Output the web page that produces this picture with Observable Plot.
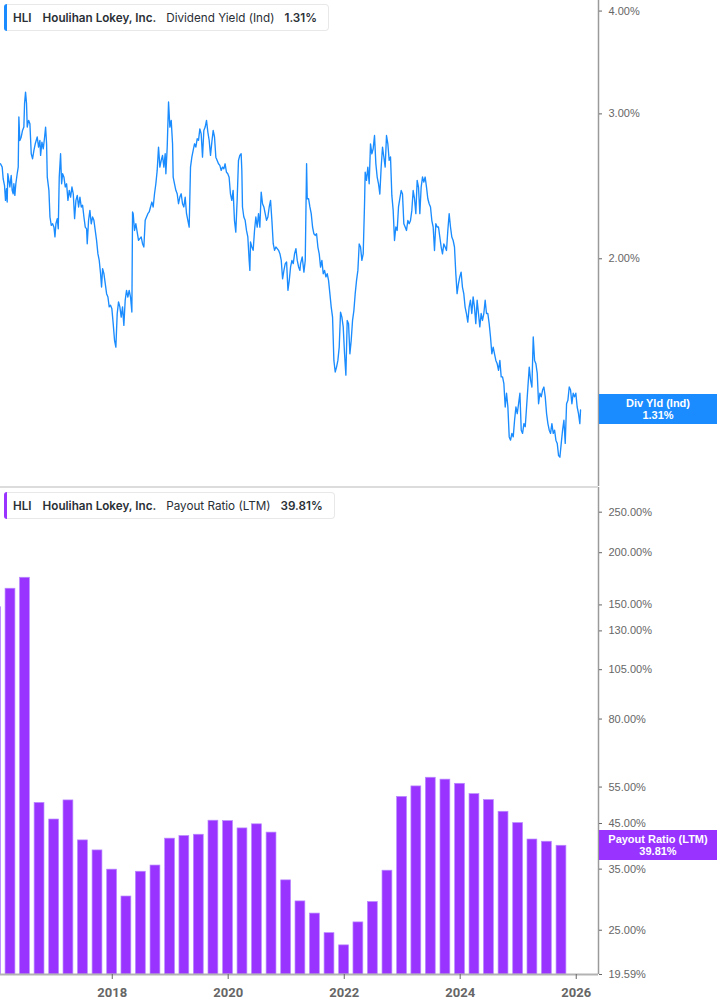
<!DOCTYPE html>
<html>
<head>
<meta charset="utf-8">
<script src="https://cdn.jsdelivr.net/npm/d3@7"></script>
<script src="https://cdn.jsdelivr.net/npm/@observablehq/plot@0.6"></script>
<style>
  html, body { margin: 0; padding: 0; background: #fff; }
  #wrap { position: relative; width: 717px; height: 1005px; overflow: hidden; font-family: Inter, "Noto Sans", sans-serif; }
  #wrap svg { display: block; }
  .panel { position: absolute; left: 0; }
  .legend { position: absolute; left: 4px; height: 27px; box-sizing: border-box; border: 1px solid #e8e8e8; border-left: none;
            border-radius: 4px; background: #fff; font-size: 11.7px; color: #2a2f36; display: flex; align-items: center; white-space: nowrap; padding-right: 11px; }
  .legend .bar { width: 3px; align-self: stretch; margin: -1px 6px -1px 0; border-radius: 3px 0 0 3px; }
  .legend .it { margin-right: 10px; }
  .legend .first { margin-right: 11px; }
  .legend .b { font-weight: 600; }
  .legend .it:last-child { margin-right: 0; }
  .vbox { position: absolute; left: 599px; width: 118px; height: 30px; color: #fff; font-family: "Liberation Sans", Arial, sans-serif;
          font-weight: bold; font-size: 11px; line-height: 12px; text-align: center; display: flex; flex-direction: column; justify-content: center; }
  .sep { position: absolute; left: 0; top: 486px; width: 598px; height: 2px; background: #dcdcdc; }
</style>
</head>
<body>
<div id="wrap"></div>
<script>
// ---------- Data ----------
const ticker = "HLI";
const company = "Houlihan Lokey, Inc.";
const divLabel = "Dividend Yield (Ind)";
const divShort = "Div Yld (Ind)";
const divLast = 1.31;
const payLabel = "Payout Ratio (LTM)";
const payLast = 39.81;

// Dividend yield (%), dates as decimal years
const divDates = [
2016.074,2016.103,2016.120,2016.143,2016.160,2016.177,2016.189,2016.200,2016.218,2016.235,
2016.258,2016.275,2016.292,2016.304,2016.321,2016.338,2016.361,2016.379,2016.390,2016.407,
2016.430,2016.453,2016.476,2016.488,2016.505,2016.522,2016.534,2016.557,2016.580,2016.603,
2016.626,2016.649,2016.672,2016.706,2016.729,2016.752,2016.764,2016.787,2016.810,2016.833,
2016.850,2016.867,2016.879,2016.907,2016.925,2016.948,2016.971,2016.994,2017.011,2017.028,
2017.051,2017.068,2017.085,2017.108,2017.126,2017.143,2017.166,2017.189,2017.212,2017.235,
2017.258,2017.281,2017.304,2017.327,2017.350,2017.373,2017.396,2017.419,2017.442,2017.465,
2017.488,2017.511,2017.534,2017.557,2017.568,2017.591,2017.614,2017.637,2017.660,2017.683,
2017.706,2017.729,2017.752,2017.775,2017.798,2017.815,2017.833,2017.856,2017.879,2017.902,
2017.925,2017.947,2017.970,2017.993,2018.016,2018.039,2018.062,2018.085,2018.108,2018.131,
2018.154,2018.177,2018.200,2018.223,2018.246,2018.269,2018.292,2018.315,2018.338,2018.350,
2018.361,2018.384,2018.407,2018.430,2018.453,2018.476,2018.499,2018.522,2018.545,2018.568,
2018.591,2018.614,2018.637,2018.660,2018.683,2018.706,2018.729,2018.752,2018.775,2018.798,
2018.810,2018.821,2018.844,2018.867,2018.890,2018.913,2018.925,2018.948,2018.971,2018.994,
2019.017,2019.040,2019.051,2019.074,2019.097,2019.120,2019.143,2019.166,2019.189,2019.212,
2019.235,2019.258,2019.281,2019.304,2019.327,2019.350,2019.373,2019.396,2019.419,2019.442,
2019.465,2019.488,2019.511,2019.534,2019.557,2019.580,2019.603,2019.626,2019.649,2019.672,
2019.695,2019.718,2019.741,2019.764,2019.787,2019.810,2019.833,2019.856,2019.879,2019.902,
2019.925,2019.947,2019.970,2019.993,2020.016,2020.039,2020.062,2020.085,2020.108,2020.131,
2020.154,2020.177,2020.200,2020.223,2020.235,2020.246,2020.269,2020.292,2020.315,2020.338,
2020.361,2020.373,2020.384,2020.407,2020.430,2020.453,2020.476,2020.499,2020.522,2020.545,
2020.568,2020.591,2020.614,2020.637,2020.660,2020.683,2020.706,2020.729,2020.752,2020.775,
2020.798,2020.821,2020.844,2020.867,2020.890,2020.913,2020.936,2020.959,2020.982,2021.005,
2021.028,2021.051,2021.074,2021.097,2021.120,2021.143,2021.166,2021.189,2021.212,2021.235,
2021.246,2021.275,2021.304,2021.327,2021.350,2021.361,2021.384,2021.407,2021.430,2021.453,
2021.476,2021.499,2021.522,2021.545,2021.568,2021.591,2021.614,2021.637,2021.660,2021.683,
2021.706,2021.729,2021.752,2021.775,2021.798,2021.821,2021.844,2021.867,2021.890,2021.913,
2021.936,2021.959,2021.982,2022.005,2022.028,2022.051,2022.074,2022.097,2022.120,2022.143,
2022.166,2022.189,2022.212,2022.235,2022.258,2022.281,2022.304,2022.327,2022.350,2022.361,
2022.384,2022.407,2022.430,2022.453,2022.476,2022.499,2022.522,2022.545,2022.568,2022.591,
2022.614,2022.637,2022.660,2022.683,2022.706,2022.729,2022.752,2022.775,2022.798,2022.821,
2022.844,2022.867,2022.890,2022.913,2022.936,2022.959,2022.982,2023.005,2023.028,2023.051,
2023.074,2023.097,2023.120,2023.143,2023.166,2023.189,2023.212,2023.235,2023.258,2023.281,
2023.304,2023.327,2023.350,2023.373,2023.396,2023.419,2023.442,2023.465,2023.488,2023.511,
2023.534,2023.557,2023.580,2023.603,2023.626,2023.649,2023.672,2023.695,2023.718,2023.741,
2023.764,2023.787,2023.810,2023.833,2023.856,2023.879,2023.902,2023.925,2023.947,2023.970,
2023.993,2024.016,2024.039,2024.062,2024.085,2024.108,2024.131,2024.154,2024.177,2024.200,
2024.223,2024.246,2024.269,2024.292,2024.315,2024.338,2024.361,2024.384,2024.407,2024.430,
2024.453,2024.476,2024.499,2024.522,2024.545,2024.568,2024.591,2024.614,2024.637,2024.660,
2024.683,2024.706,2024.729,2024.752,2024.775,2024.798,2024.821,2024.844,2024.867,2024.890,
2024.913,2024.936,2024.959,2024.982,2025.005,2025.028,2025.051,2025.074,2025.097,2025.120,
2025.143,2025.166,2025.189,2025.212,2025.235,2025.258,2025.281,2025.304,2025.327,2025.350,
2025.373,2025.396,2025.419,2025.442,2025.465,2025.488,2025.511,2025.534,2025.557,2025.580,
2025.603,2025.626,2025.649,2025.672,2025.695,2025.718,2025.741,2025.764,2025.787,2025.810,
2025.833,2025.856,2025.879,2025.902,2025.925,2025.947,2025.970,2025.993,2026.016,2026.039,
2026.062,2026.074
];
const divYield = [
2.609,2.585,2.502,2.456,2.355,2.433,2.344,2.537,2.490,2.445,
2.525,2.422,2.399,2.467,2.388,2.467,2.537,2.585,2.974,2.785,
2.811,2.864,2.891,3.087,3.188,3.087,2.891,2.946,2.918,2.683,
2.646,2.709,2.759,2.812,2.734,2.786,2.671,2.772,2.721,2.812,
2.891,2.759,2.513,2.422,2.248,2.196,2.206,2.185,2.126,2.206,
2.238,2.175,2.513,2.683,2.467,2.537,2.513,2.445,2.467,2.355,
2.422,2.377,2.445,2.399,2.238,2.355,2.388,2.312,2.377,2.312,
2.323,2.248,2.185,2.175,2.086,2.227,2.290,2.206,2.248,2.227,
2.165,2.106,2.029,1.991,1.918,1.848,1.946,1.918,1.866,1.814,
1.797,1.748,1.756,1.739,1.668,1.592,1.562,1.715,1.773,1.748,
1.699,1.748,1.660,1.781,1.831,1.797,1.831,1.797,1.723,2.280,
2.269,2.165,2.206,2.155,2.106,2.116,2.126,2.086,2.067,2.227,
2.248,2.269,2.280,2.312,2.344,2.312,2.399,2.467,2.561,2.734,
2.658,2.585,2.633,2.671,2.585,2.683,2.537,2.734,3.101,2.891,
2.946,2.759,2.513,2.467,2.422,2.399,2.333,2.377,2.399,2.333,
2.312,2.377,2.269,2.227,2.185,2.585,2.658,2.709,2.759,2.734,
2.798,2.786,2.877,2.837,2.658,2.864,2.891,2.946,2.851,2.786,
2.671,2.772,2.864,2.812,2.658,2.633,2.609,2.597,2.561,2.585,
2.573,2.609,2.549,2.537,2.513,2.399,2.355,2.422,2.227,2.155,
2.355,2.633,2.671,2.683,2.561,2.312,2.248,2.227,2.165,2.126,
1.991,1.936,2.096,2.067,2.048,2.165,2.248,2.185,2.269,2.185,
2.410,2.333,2.312,2.269,2.227,2.248,2.312,2.355,2.227,2.086,
2.048,2.067,2.058,2.048,2.029,1.991,1.891,1.936,1.973,1.982,
1.831,1.883,1.955,1.991,1.973,2.029,2.058,1.991,1.955,1.936,
1.973,2.010,1.927,1.991,2.610,2.366,2.366,2.312,2.269,2.186,
2.145,2.135,2.145,2.067,2.028,1.954,1.991,1.918,1.936,1.901,
1.918,1.883,1.814,1.747,1.699,1.505,1.457,1.477,1.505,1.562,
1.723,1.699,1.653,1.533,1.444,1.683,1.668,1.533,1.592,1.683,
1.730,1.814,1.883,1.936,2.085,2.067,1.991,2.028,2.333,2.549,
2.491,2.585,2.467,2.759,2.683,2.721,2.824,2.610,2.514,2.467,
2.397,2.585,2.733,2.659,2.585,2.824,2.759,2.634,2.659,2.388,
2.290,2.105,2.186,2.165,2.312,2.366,2.421,2.397,2.206,2.186,
2.165,2.226,2.206,2.226,2.290,2.421,2.366,2.269,2.491,2.444,
2.269,2.444,2.514,2.479,2.514,2.444,2.366,2.333,2.312,2.226,
2.186,2.047,2.206,2.186,2.186,2.125,2.067,2.028,2.085,2.067,
2.047,2.165,2.269,2.186,2.125,2.105,2.067,1.918,1.814,1.865,
1.901,1.927,1.848,1.814,1.747,1.716,1.675,1.747,1.781,1.716,
1.798,1.747,1.668,1.781,1.716,1.653,1.716,1.683,1.716,1.781,
1.716,1.716,1.668,1.607,1.533,1.562,1.533,1.505,1.491,1.464,
1.505,1.437,1.437,1.410,1.321,1.373,1.321,1.215,1.204,1.227,
1.215,1.273,1.321,1.297,1.333,1.373,1.238,1.227,1.261,1.250,
1.321,1.397,1.477,1.424,1.397,1.607,1.505,1.491,1.451,1.333,
1.373,1.359,1.385,1.397,1.359,1.297,1.261,1.238,1.227,1.261,
1.227,1.238,1.204,1.193,1.153,1.148,1.193,1.238,1.273,1.193,
1.333,1.346,1.397,1.385,1.333,1.373,1.359,1.373,1.321,1.297,
1.261,1.31
];

// Payout ratio (LTM, %), quarterly
const payDates = [
"2015-12-31",
"2016-03-31","2016-06-30","2016-09-30","2016-12-31",
"2017-03-31","2017-06-30","2017-09-30","2017-12-31",
"2018-03-31","2018-06-30","2018-09-30","2018-12-31",
"2019-03-31","2019-06-30","2019-09-30","2019-12-31",
"2020-03-31","2020-06-30","2020-09-30","2020-12-31",
"2021-03-31","2021-06-30","2021-09-30","2021-12-31",
"2022-03-31","2022-06-30","2022-09-30","2022-12-31",
"2023-03-31","2023-06-30","2023-09-30","2023-12-31",
"2024-03-31","2024-06-30","2024-09-30","2024-12-31",
"2025-03-31","2025-06-30","2025-09-30"
];
const payValues = [
148.1,
164.0,174.2,50.4,46.0,
51.1,41.0,38.8,34.9,
30.1,34.5,35.7,41.4,
42.0,42.3,45.7,45.6,
43.8,44.8,42.8,32.9,
29.3,27.4,24.6,23.0,
26.1,29.2,34.7,52.1,
55.2,57.9,57.3,56.0,
52.9,51.2,48.0,45.1,
41.2,40.7,39.81
];

const divTicks = [2, 3, 4];
const payTicks = [19.59, 25, 35, 45, 55, 80, 105, 130, 150, 200, 250];
const yearTicks = [2018, 2020, 2022, 2024, 2026];

// ---------- Helpers ----------
function fromDecimal(t) {
  const y = Math.floor(t);
  const s = Date.UTC(y, 0, 1), e = Date.UTC(y + 1, 0, 1);
  return new Date(s + (t - y) * (e - s));
}
const divData = divDates.map((t, i) => ({date: fromDecimal(t), value: divYield[i]}));
const payData = payDates.map((d, i) => ({date: new Date(d + "T00:00:00Z"), value: payValues[i]}));

const xDomain = [fromDecimal(2016.074), fromDecimal(2026.384)];
const blue = "#1a8cff";
const purple = "#9933ff";
const pct = d => d.toFixed(2) + "%";
const baseStyle = {fontFamily: "'Liberation Sans', Arial, sans-serif", fontSize: "11px", color: "#666", background: "transparent", overflow: "visible"};

const wrap = document.getElementById("wrap");

// ---------- Top panel: dividend yield ----------
const topChart = Plot.plot({
  width: 717, height: 486,
  marginLeft: 0, marginRight: 119, marginTop: 0, marginBottom: 0,
  style: baseStyle,
  x: {type: "utc", domain: xDomain, axis: null},
  y: {type: "log", domain: [1.0546 * Math.exp(1/357.4), 4.12]},
  marks: [
    Plot.line(divData, {x: "date", y: "value", stroke: blue, strokeWidth: 1.35, clip: true}),
    Plot.ruleX([xDomain[1]], {stroke: "#9a9a9a", strokeWidth: 1.5}),
    Plot.axisY({ticks: divTicks, anchor: "right", tickFormat: pct, tickSize: 3, tickPadding: 7, label: null})
  ]
});
topChart.classList.add("panel");
topChart.style.top = "0px";
wrap.appendChild(topChart);

// ---------- Bottom panel: payout ratio ----------
const payMin = 19.59;
const bottomChart = Plot.plot({
  width: 717, height: 518,
  marginLeft: 0, marginRight: 119, marginTop: 0, marginBottom: 31,
  style: baseStyle,
  x: {type: "utc", domain: xDomain},
  y: {type: "log", domain: [payMin, 286.4]},
  marks: [
    Plot.rectY(payData, {
      x1: d => d3.utcDay.offset(d.date, -31),
      x2: d => d3.utcDay.offset(d.date, 31),
      y1: payMin, y2: "value",
      fill: purple, stroke: "#b98aff", strokeWidth: 0.7, clip: true
    }),
    Plot.ruleY([payMin], {stroke: "#b3b3b3", strokeWidth: 2}),
    Plot.ruleX([xDomain[1]], {stroke: "#9a9a9a", strokeWidth: 1.5}),
    Plot.axisY({ticks: payTicks, anchor: "right", tickFormat: pct, tickSize: 3, tickPadding: 7, label: null}),
    Plot.axisX({ticks: yearTicks.map(y => new Date(Date.UTC(y, 0, 1))), tickFormat: d3.utcFormat("%Y"),
                tickSize: 5, tickPadding: 8, fontSize: 13, fontWeight: "bold", fontFamily: "Roboto, 'Liberation Sans', sans-serif", label: null})
  ]
});
bottomChart.classList.add("panel");
bottomChart.style.top = "487px";
wrap.appendChild(bottomChart);

// separator
const sep = document.createElement("div");
sep.className = "sep";
wrap.appendChild(sep);

// ---------- Legends ----------
function legend(top, color, label, value) {
  const el = document.createElement("div");
  el.className = "legend";
  el.style.top = top + "px";
  el.innerHTML = `<span class="bar" style="background:${color}"></span>` +
    `<span class="it b first">${ticker}</span><span class="it b">${company}</span>` +
    `<span class="it">${label}</span><span class="it b">${value}</span>`;
  wrap.appendChild(el);
}
legend(4, blue, divLabel, pct(divLast));
legend(492, purple, payLabel, pct(payLast));

// ---------- Last-value boxes ----------
function vbox(offset, chart, value, color, label) {
  const y = offset + chart.scale("y").apply(value);
  const el = document.createElement("div");
  el.className = "vbox";
  el.style.top = (y - 15) + "px";
  el.style.background = color;
  el.innerHTML = `<div>${label}</div><div>${pct(value)}</div>`;
  wrap.appendChild(el);
}
vbox(0, topChart, divLast, blue, divShort);
vbox(487, bottomChart, payLast, purple, payLabel);
</script>
</body>
</html>
